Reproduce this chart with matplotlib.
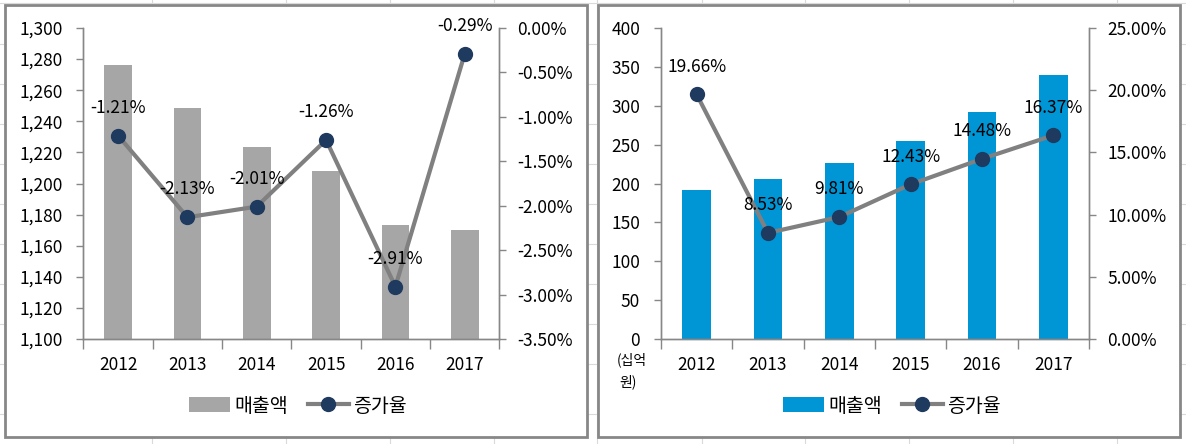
import numpy as np
import matplotlib
matplotlib.use('Agg')
import matplotlib.pyplot as plt
from matplotlib.patches import Rectangle, Patch
from matplotlib.lines import Line2D
from matplotlib.ticker import FuncFormatter

plt.rcParams['font.family'] = ['Noto Sans CJK KR', 'DejaVu Sans']

years = ['2012', '2013', '2014', '2015', '2016', '2017']

# left chart
sales_left = [1276, 1248.5, 1223.5, 1208, 1173, 1170]
rate_left = [-1.21, -2.13, -2.01, -1.26, -2.91, -0.29]

# right chart (십억 원)
sales_right = [191, 206, 227, 255, 292, 340]
rate_right = [19.66, 8.53, 9.81, 12.43, 14.48, 16.37]

W, H = 1186, 444
BORDER = '#878787'
LINE = '#808080'
MARK = '#1F3A5F'


def fx(px):
    return px / W


def fy(py):
    return 1 - py / H


fig = plt.figure(figsize=(W / 100, H / 100), dpi=100)

# faint spreadsheet grid behind the chart panels
for x in [152, 286, 390, 494, 597, 702, 805, 909, 1013, 1117]:
    fig.add_artist(Line2D([fx(x), fx(x)], [0, 1], color='#DADADA', lw=0.8, zorder=0))
for y in [3, 44, 84, 124, 164, 204, 244, 284, 324, 364, 414]:
    fig.add_artist(Line2D([0, 1], [fy(y), fy(y)], color='#DADADA', lw=0.8, zorder=0))

# panel frames
for x0, x1 in [(5, 587), (598, 1180)]:
    fig.add_artist(Rectangle((fx(x0), fy(437)), fx(x1 - x0), (437 - 5) / H,
                             facecolor='white', edgecolor=BORDER, lw=2, zorder=1))


def draw_panel(left_px, right_px, sales, rates, bar_color, ylim, yticks, yfmt,
               rlim, rticks, legend_x):
    ax = fig.add_axes([fx(left_px), fy(339), fx(right_px - left_px), (339 - 28) / H])
    ax.set_zorder(2)
    ax.patch.set_alpha(0)
    x = np.arange(len(years))
    ax.bar(x, sales, width=0.4, color=bar_color, zorder=2)
    ax.set_xlim(-0.5, len(years) - 0.5)
    ax.set_ylim(*ylim)
    ax.set_yticks(yticks)
    ax.yaxis.set_major_formatter(FuncFormatter(yfmt))
    ax.set_xticks(x)
    ax.set_xticklabels(years)
    ax.set_xticks(np.arange(-0.5, len(years), 1), minor=True)
    ax.tick_params(axis='x', which='major', length=0, pad=12, labelsize=12.5)
    ax.tick_params(axis='x', which='minor', length=7, width=1, color=BORDER, direction='out')
    ax.tick_params(axis='y', length=5, width=1, color=BORDER, pad=10, labelsize=12.5)
    for s in ['top']:
        ax.spines[s].set_visible(False)
    for s in ['left', 'right', 'bottom']:
        ax.spines[s].set_color(BORDER)
        ax.spines[s].set_linewidth(1)

    ax2 = ax.twinx()
    ax2.plot(x, rates, color=LINE, lw=3, marker='o', markersize=10,
             markerfacecolor=MARK, markeredgecolor=MARK, zorder=3)
    ax2.set_ylim(*rlim)
    ax2.set_yticks(rticks)
    ax2.yaxis.set_major_formatter(FuncFormatter(lambda v, p: f'{v:.2f}%'))
    ax2.tick_params(axis='y', length=5, width=1, color=BORDER, pad=8, labelsize=12.5)
    ax2.spines['top'].set_visible(False)
    for s in ['left', 'right', 'bottom']:
        ax2.spines[s].set_color(BORDER)
        ax2.spines[s].set_linewidth(1)
    for xi, r in zip(x, rates):
        ax2.annotate(f'{r:.2f}%', (xi, r), xytext=(0, 20), textcoords='offset points',
                     ha='center', va='center', fontsize=12.5, zorder=4)

    handles = [Patch(facecolor=bar_color, edgecolor='none'),
               Line2D([], [], color=LINE, lw=3, marker='o', markersize=10,
                      markerfacecolor=MARK, markeredgecolor=MARK)]
    fig.legend(handles, ['매출액', '증가율'], loc='center',
               bbox_to_anchor=(fx(legend_x), fy(406)), ncol=2, frameon=False,
               fontsize=14, handlelength=2.1, handleheight=0.8,
               handletextpad=0.25, columnspacing=1.0)
    return ax, ax2


draw_panel(83.4, 499.4, sales_left, rate_left, '#A6A6A6',
           (1100, 1300), np.arange(1100, 1301, 20), lambda v, p: f'{v:,.0f}',
           (-3.5, 0), np.arange(-3.5, 0.01, 0.5), 298)

axr, axr2 = draw_panel(661, 1089, sales_right, rate_right, '#0095D5',
                       (0, 400), np.arange(0, 401, 50), lambda v, p: f'{v:.0f}',
                       (0, 25), np.arange(0, 25.01, 5), 892)

fig.text(fx(632), fy(360), '(십억', ha='center', va='center', fontsize=10)
fig.text(fx(628), fy(382), '원)', ha='center', va='center', fontsize=10)

fig.savefig('out.png', dpi=100)
